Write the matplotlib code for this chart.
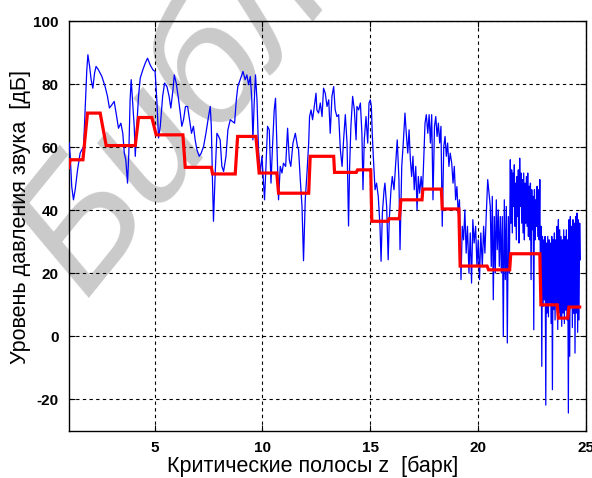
import numpy as np
import matplotlib
matplotlib.use("Agg")
import matplotlib.pyplot as plt
from matplotlib.font_manager import FontProperties

plt.rcParams["axes.unicode_minus"] = False

# ---- spectrum (blue), sparse part: explicit bark positions ----
spec_z = [1.03, 1.08, 1.15, 1.23, 1.31, 1.42, 1.54, 1.70, 1.77, 1.85, 1.90, 1.98, 2.05, 2.13, 2.21, 2.28,
          2.39, 2.55, 2.70, 2.81, 2.90, 3.01, 3.12, 3.21, 3.32, 3.43, 3.52, 3.59, 3.66, 3.74, 3.80, 3.86,
          3.91, 3.97, 4.05, 4.10, 4.17, 4.25, 4.33, 4.45, 4.56, 4.67, 4.79, 4.92, 5.02, 5.10, 5.18, 5.26,
          5.37, 5.46, 5.57, 5.67, 5.75, 5.85, 5.91, 6.00, 6.09, 6.19, 6.26, 6.34, 6.43, 6.53, 6.62, 6.71,
          6.80, 6.88, 6.96, 7.07, 7.16, 7.27, 7.38, 7.50, 7.58, 7.63, 7.69, 7.73, 7.81, 7.89, 7.97, 8.04,
          8.12, 8.20, 8.31, 8.40, 8.51, 8.62, 8.71, 8.79, 8.86, 8.97, 9.10, 9.20, 9.28, 9.36, 9.44, 9.51,
          9.56, 9.62, 9.68, 9.75, 9.82, 9.90, 9.98, 10.06, 10.10, 10.16, 10.24, 10.32, 10.40, 10.47, 10.55,
          10.61, 10.67, 10.75, 10.83, 10.91, 10.98, 11.08, 11.17, 11.25, 11.32, 11.42, 11.53, 11.63,
          11.68, 11.76, 11.84, 11.91, 11.99, 12.07, 12.15, 12.19, 12.26, 12.33, 12.41, 12.49, 12.53, 12.61,
          12.69, 12.77, 12.84, 12.92, 13.00, 13.08, 13.15, 13.23, 13.31, 13.38, 13.46, 13.54, 13.62, 13.70,
          13.77, 13.85, 13.93, 14.00, 14.05, 14.11, 14.19, 14.27, 14.35, 14.39, 14.47, 14.55, 14.62, 14.67,
          14.73, 14.81, 14.89, 14.95, 15.01, 15.06, 15.10,
          15.15, 15.23, 15.30, 15.38, 15.46, 15.51, 15.57, 15.65, 15.69, 15.77, 15.84, 15.89, 15.97, 16.03,
          16.11, 16.19, 16.26, 16.34, 16.39, 16.47, 16.54, 16.62,
          16.68, 16.75, 16.81, 16.87, 16.93, 16.99, 17.05, 17.12, 17.18, 17.24, 17.30, 17.37, 17.43, 17.49,
          17.55, 17.61, 17.68, 17.74, 17.80, 17.86, 17.92, 17.99, 18.05, 18.11, 18.17, 18.23, 18.29, 18.35,
          18.42, 18.48, 18.54, 18.60, 18.66, 18.72, 18.79, 18.85, 18.91, 18.97, 19.03, 19.09, 19.15, 19.22,
          19.28, 19.34, 19.40, 19.46, 19.52, 19.59, 19.65, 19.71, 19.77, 19.83, 19.90, 19.96, 20.02, 20.08,
          20.14, 20.21, 20.27, 20.33, 20.39, 20.46, 20.52]
spec_db = [61.3, 57.1, 47.5, 43.3, 46.5, 52.8, 58.1, 60.2, 71.8, 84.5, 89.3, 85.6, 81.4, 78.7, 83.5, 85.6,
           84.5, 82.4, 79.2, 76.1, 72.4, 73.4, 74.5, 70.8, 66.0, 67.6, 64.4, 58.1, 56.0, 48.6, 58.1, 75.0,
           81.4, 75.0, 66.6, 57.1, 66.6, 76.1, 81.9, 84.5, 86.6, 88.2, 86.1, 84.5, 84.0, 75.0, 62.9, 66.6,
           76.1, 80.3, 79.2, 76.1, 72.4, 78.2, 82.9, 80.3, 76.1, 70.8, 66.6, 68.7, 72.9, 72.9, 68.7, 64.4,
           66.6, 62.3, 59.2, 57.1, 58.1, 60.2, 64.4, 69.7, 72.9, 66.6, 47.5, 36.5, 51.8, 64.4, 63.4, 62.3,
           53.9, 52.3, 57.1, 65.5, 68.7, 68.1, 67.6, 75.0, 79.2, 81.4, 84.0, 81.4, 82.9, 79.8, 82.4, 75.0,
           62.3, 74.0, 82.9, 75.0, 59.2, 51.8, 57.1, 47.5, 43.3, 52.8, 66.6, 65.5, 48.6, 60.2, 71.8,
           75.5, 61.3, 43.3, 53.9, 51.8, 54.9, 53.9, 66.0, 56.0, 53.9, 61.3, 64.4, 60.2,
           59.2, 49.7, 41.2, 24.0, 43.3, 51.8, 61.3, 69.7, 71.8, 68.7, 72.9, 77.1, 71.8, 70.8,
           74.0, 69.7, 78.7, 77.1, 72.9, 75.0, 64.4, 76.1, 79.2, 71.8, 69.7, 70.3, 59.2, 53.9,
           62.3, 70.3, 61.3, 35.0, 53.9, 66.6, 76.1, 71.8, 62.3, 72.9, 71.8, 74.0, 64.4, 46.5,
           62.3, 69.7, 61.3, 74.0, 75.0, 72.9, 64.4,
           57.0, 46.5, 48.6, 44.4, 34.9, 23.8, 39.1, 46.5, 48.6, 41.2, 24.3, 37.0, 46.5, 50.7,
           46.5, 54.9, 62.3, 49.7, 27.5, 53.9, 61.3, 70.8,
           64.4, 58.1, 65.5, 56.0, 50.7, 57.1, 46.5, 53.9, 40.1, 50.7, 45.4, 50.7, 45.4, 56.0,
           67.6, 70.3, 64.4, 70.3, 61.3, 70.3, 43.3, 66.6, 69.7, 63.4, 67.6, 61.3, 66.6, 34.9,
           60.2, 63.4, 57.1, 61.3, 53.9, 58.1, 54.9, 48.6, 53.9, 43.3, 47.5, 39.1, 43.3, 18.0,
           34.9, 30.6, 40.1, 26.4, 34.9, 20.1, 32.8, 16.9, 37.0, 29.6, 34.9, 22.2, 30.6, 18.0,
           32.8, 22.2, 34.9, 26.4, 38.0, 49.7, 45.4]

# ---- spectrum (blue), dense high-bark part: uniformly spaced bins ----
band_a_range = (20.58, 21.51)
band_a_db = [41.2, 22.2, 44.4, 11.6, 38.0, 20.1, 43.3, 27.5, 40.1, 22.2, 38.0, 20.1, 38.0, 0.0, 43.3,
             18.0, 41.2, -2.1, 38.0, 20.1, 56.0]
band_b_range = (21.54, 22.91)
band_b_db = [35.9, 52.8, 32.8, 51.8, 41.2, 54.4, 34.9, 48.6, 30.6, 50.7, 38.0, 52.8, 29.6, 56.5, 41.2,
             51.8, 35.9, 49.7, 32.8, 51.8, 30.6, 48.6, 35.9, 50.7, 34.9, 51.8, 31.7, 47.6, 30.6, 48.6,
             18.0, 46.5, 33.8, 44.4, 2.1, 46.5, 30.6, 43.3, 34.9, 47.6, 31.7, 46.5, 30.6, 49.7, 13.7]
band_c_range = (22.94, 24.76)
band_c_db = [34.9, -9.5, 31.7, 9.5, 30.6, 11.6, 31.7, -21.8, 29.6, 7.4,
             31.7, 6.2, 30.6, 10.6, 29.6, 4.1, 31.7, -16.9, 30.6, 8.5,
             32.8, 5.2, 30.6, 9.5, 34.9, 2.2, 37.0, 7.4, 33.8, 6.1,
             31.7, 3.2, 30.6, 7.4, 33.8, 4.1, 31.7, 8.3, 33.8, 5.2,
             30.6, -24.3, 37.0, -6.3, 38.0, 9.5, 34.9, 2.8, 37.0, 7.3,
             35.9, -5.3, 38.0, 7.4, 39.1, 1.3, 37.0, 5.2, 35.9, 24.3]

# ---- critical-band levels (red): band start, band end, level ----
band_start = [1.00, 1.08, 1.88, 2.75, 4.25, 5.07, 6.42, 7.69, 8.85, 9.85, 10.75, 12.22, 13.35, 14.42,
              15.08, 15.88, 16.43, 17.45, 18.35, 19.18, 20.50, 21.53, 22.93, 23.74, 24.23]
band_end = [1.00, 1.67, 2.47, 4.10, 4.87, 6.31, 7.63, 8.74, 9.70, 10.67, 12.15, 13.31, 14.36, 15.03,
            15.83, 16.36, 17.41, 18.31, 19.12, 20.43, 21.48, 22.88, 23.69, 24.18, 24.73]
band_level = [53.5, 56.0, 70.8, 60.5, 69.4, 63.9, 53.6, 51.5, 63.4, 51.8, 45.4, 57.1, 52.0, 52.8,
              36.5, 37.3, 43.3, 46.7, 40.4, 22.3, 21.1, 26.2, 10.0, 5.8, 9.3]

x_ticks = [5, 10, 15, 20, 25]
y_ticks = [-20, 0, 20, 40, 60, 80, 100]
x_label = "Критические полосы z  [барк]"
y_label = "Уровень давления звука  [дБ]"
watermark = "Библиотека"

# assemble the full spectrum trace
z_all = list(spec_z)
db_all = list(spec_db)
for (z0, z1), vals in ((band_a_range, band_a_db), (band_b_range, band_b_db), (band_c_range, band_c_db)):
    z_all += list(np.linspace(z0, z1, len(vals)))
    db_all += vals

# step curve from band edges
step_z, step_db = [], []
for s, e, lv in zip(band_start, band_end, band_level):
    step_z += [s, e]
    step_db += [lv, lv]

W, H = 592, 478
fig = plt.figure(figsize=(W / 100, H / 100), dpi=100)
fig.patch.set_facecolor("white")
ax = fig.add_axes([68.5 / W, 1 - 431 / H, (585.5 - 68.5) / W, (431 - 21) / H])
ax.patch.set_alpha(0)

# faint diagonal watermark behind the axes
fig.text(84 / W, 1 - 298 / H, watermark, rotation=51, rotation_mode="anchor",
         ha="left", va="baseline", fontsize=124, color="#cacaca", style="italic",
         family=["Liberation Sans", "DejaVu Sans"], zorder=-5)

ax.plot(z_all, db_all, color="#0000ff", lw=0.9, zorder=3)
ax.plot(step_z, step_db, color="#ff0000", lw=2.3, zorder=4, solid_joinstyle="miter")

ax.set_xlim(1, 25)
ax.set_ylim(-30, 100)
ax.set_xticks(x_ticks)
ax.set_yticks(y_ticks)
ax.grid(True, color="black", linestyle=(0, (3, 3)), linewidth=0.8)
ax.set_axisbelow(True)
ax.tick_params(direction="in", length=4, width=0.8, top=True, right=True, labeltop=False,
               labelright=False, pad=7)
tick_fp = FontProperties(family=["Liberation Sans", "DejaVu Sans"], weight="bold", size=11)
for lab in ax.get_xticklabels() + ax.get_yticklabels():
    lab.set_fontproperties(tick_fp)
for sp in ax.spines.values():
    sp.set_linewidth(1.0)
    sp.set_color("black")

label_font = ["Liberation Sans", "DejaVu Sans"]
fig.text(313 / W, 1 - 466 / H, x_label, fontsize=15.5, family=label_font, ha="center", va="center")
fig.text(21 / W, 1 - 217 / H, y_label, fontsize=15.5, family=label_font, ha="center", va="center",
         rotation=90)

fig.savefig("out.png", dpi=100, facecolor="white")
